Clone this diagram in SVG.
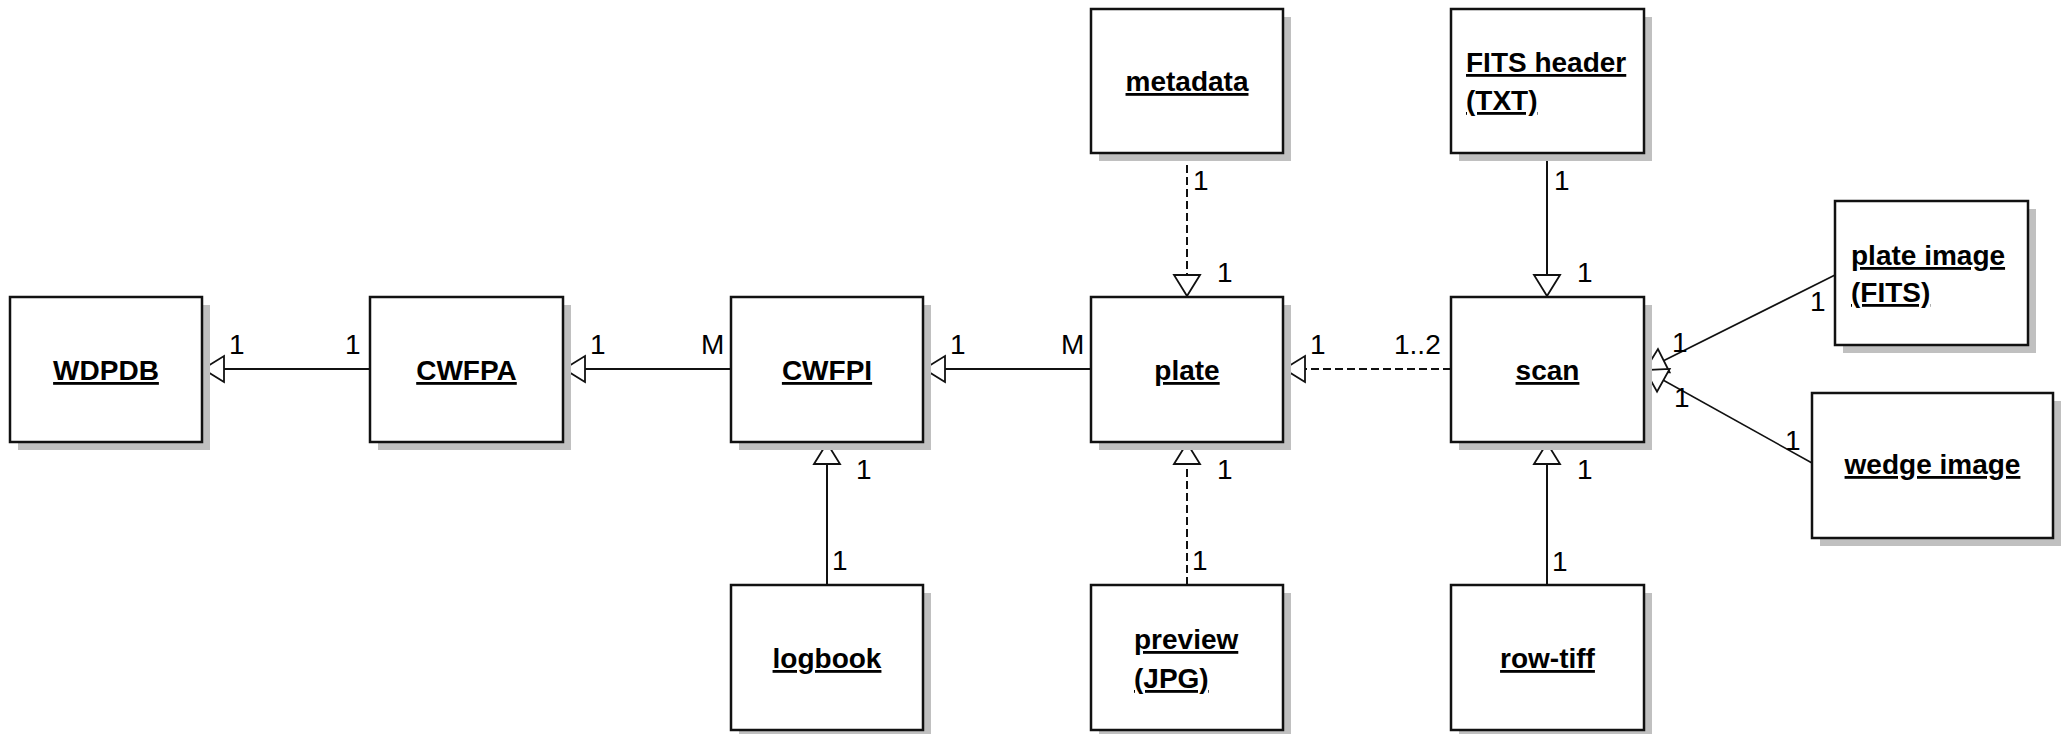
<svg xmlns="http://www.w3.org/2000/svg" width="2069" height="734" viewBox="0 0 2069 734">
<style>
.bg{fill:#ffffff}
.shadow{fill:#c0c0c0;stroke:none}
.box{fill:#ffffff;stroke:#111111;stroke-width:2.5}
.name{font-family:"Liberation Sans",Arial,sans-serif;font-weight:bold;font-size:28px;fill:#000;text-decoration:underline}
.lbl{font-family:"Liberation Sans",Arial,sans-serif;font-size:28px;fill:#000}
.conn{stroke:#111111;stroke-width:2;fill:none;marker-end:url(#tri)}
.dash{stroke-dasharray:8 4}
.thin{stroke-width:1.6}
</style>
<defs>
<marker id="tri" markerUnits="userSpaceOnUse" markerWidth="24" markerHeight="30" viewBox="0 0 24 30" refX="22" refY="15" orient="auto" overflow="visible">
<path d="M1,2 L22,15 L1,28 Z" fill="#ffffff" stroke="#111111" stroke-width="1.8" stroke-linejoin="miter"/>
</marker>
</defs>
<rect class="bg" x="0" y="0" width="2069" height="734"/>

<g id="connectors">
<line class="conn" x1="370" y1="369" x2="203" y2="369"/>
<line class="conn" x1="731" y1="369" x2="564" y2="369"/>
<line class="conn" x1="1091" y1="369" x2="924" y2="369"/>
<line class="conn dash" x1="1451" y1="369" x2="1284" y2="369"/>
<line class="conn dash" x1="1187" y1="153" x2="1187" y2="296"/>
<line class="conn dash" x1="1187" y1="585" x2="1187" y2="443"/>
<line class="conn" x1="827" y1="585" x2="827" y2="443"/>
<line class="conn" x1="1547" y1="153" x2="1547" y2="296"/>
<line class="conn" x1="1547" y1="585" x2="1547" y2="443"/>
<line class="conn thin" x1="1835" y1="275" x2="1645" y2="370"/>
<line class="conn thin" x1="1812" y1="463" x2="1645" y2="370"/>
<g id="labels">
<text class="lbl" x="229" y="354">1</text>
<text class="lbl" x="345" y="354">1</text>
<text class="lbl" x="590" y="354">1</text>
<text class="lbl" x="701" y="354">M</text>
<text class="lbl" x="950" y="354">1</text>
<text class="lbl" x="1061" y="354">M</text>
<text class="lbl" x="1310" y="354">1</text>
<text class="lbl" x="1394" y="354">1..2</text>
<text class="lbl" x="1193" y="190">1</text>
<text class="lbl" x="1217" y="282">1</text>
<text class="lbl" x="1554" y="190">1</text>
<text class="lbl" x="1577" y="282">1</text>
<text class="lbl" x="856" y="479">1</text>
<text class="lbl" x="832" y="570">1</text>
<text class="lbl" x="1217" y="479">1</text>
<text class="lbl" x="1192" y="570">1</text>
<text class="lbl" x="1577" y="479">1</text>
<text class="lbl" x="1552" y="571">1</text>
<text class="lbl" x="1810" y="311">1</text>
<text class="lbl" x="1672" y="352">1</text>
<text class="lbl" x="1674" y="407">1</text>
<text class="lbl" x="1785" y="450">1</text>
</g>
</g>

<g id="WDPDB">
<rect class="shadow" x="18" y="305" width="192" height="145"/>
<rect class="box" x="10" y="297" width="192" height="145"/>
<text class="name" x="106" y="380" text-anchor="middle">WDPDB</text>
</g>
<g id="CWFPA">
<rect class="shadow" x="378" y="305" width="193" height="145"/>
<rect class="box" x="370" y="297" width="193" height="145"/>
<text class="name" x="466.5" y="380" text-anchor="middle">CWFPA</text>
</g>
<g id="CWFPI">
<rect class="shadow" x="739" y="305" width="192" height="145"/>
<rect class="box" x="731" y="297" width="192" height="145"/>
<text class="name" x="827" y="380" text-anchor="middle">CWFPI</text>
</g>
<g id="plate">
<rect class="shadow" x="1099" y="305" width="192" height="145"/>
<rect class="box" x="1091" y="297" width="192" height="145"/>
<text class="name" x="1187" y="380" text-anchor="middle">plate</text>
</g>
<g id="scan">
<rect class="shadow" x="1459" y="305" width="193" height="145"/>
<rect class="box" x="1451" y="297" width="193" height="145"/>
<text class="name" x="1547.5" y="380" text-anchor="middle">scan</text>
</g>
<g id="metadata">
<rect class="shadow" x="1099" y="17" width="192" height="144"/>
<rect class="box" x="1091" y="9" width="192" height="144"/>
<text class="name" x="1187" y="91" text-anchor="middle">metadata</text>
</g>
<g id="fits-header">
<rect class="shadow" x="1459" y="17" width="193" height="144"/>
<rect class="box" x="1451" y="9" width="193" height="144"/>
<text class="name" x="1466" y="72">FITS header</text>
<text class="name" x="1466" y="110">(TXT)</text>
</g>
<g id="plate-image">
<rect class="shadow" x="1843" y="209" width="193" height="144"/>
<rect class="box" x="1835" y="201" width="193" height="144"/>
<text class="name" x="1851" y="265">plate image</text>
<text class="name" x="1851" y="302">(FITS)</text>
</g>
<g id="wedge-image">
<rect class="shadow" x="1820" y="401" width="241" height="145"/>
<rect class="box" x="1812" y="393" width="241" height="145"/>
<text class="name" x="1932.5" y="474" text-anchor="middle">wedge image</text>
</g>
<g id="logbook">
<rect class="shadow" x="739" y="593" width="192" height="145"/>
<rect class="box" x="731" y="585" width="192" height="145"/>
<text class="name" x="827" y="668" text-anchor="middle">logbook</text>
</g>
<g id="preview">
<rect class="shadow" x="1099" y="593" width="192" height="145"/>
<rect class="box" x="1091" y="585" width="192" height="145"/>
<text class="name" x="1134" y="649">preview</text>
<text class="name" x="1134" y="688">(JPG)</text>
</g>
<g id="row-tiff">
<rect class="shadow" x="1459" y="593" width="193" height="145"/>
<rect class="box" x="1451" y="585" width="193" height="145"/>
<text class="name" x="1547.5" y="668" text-anchor="middle">row-tiff</text>
</g>
</svg>
